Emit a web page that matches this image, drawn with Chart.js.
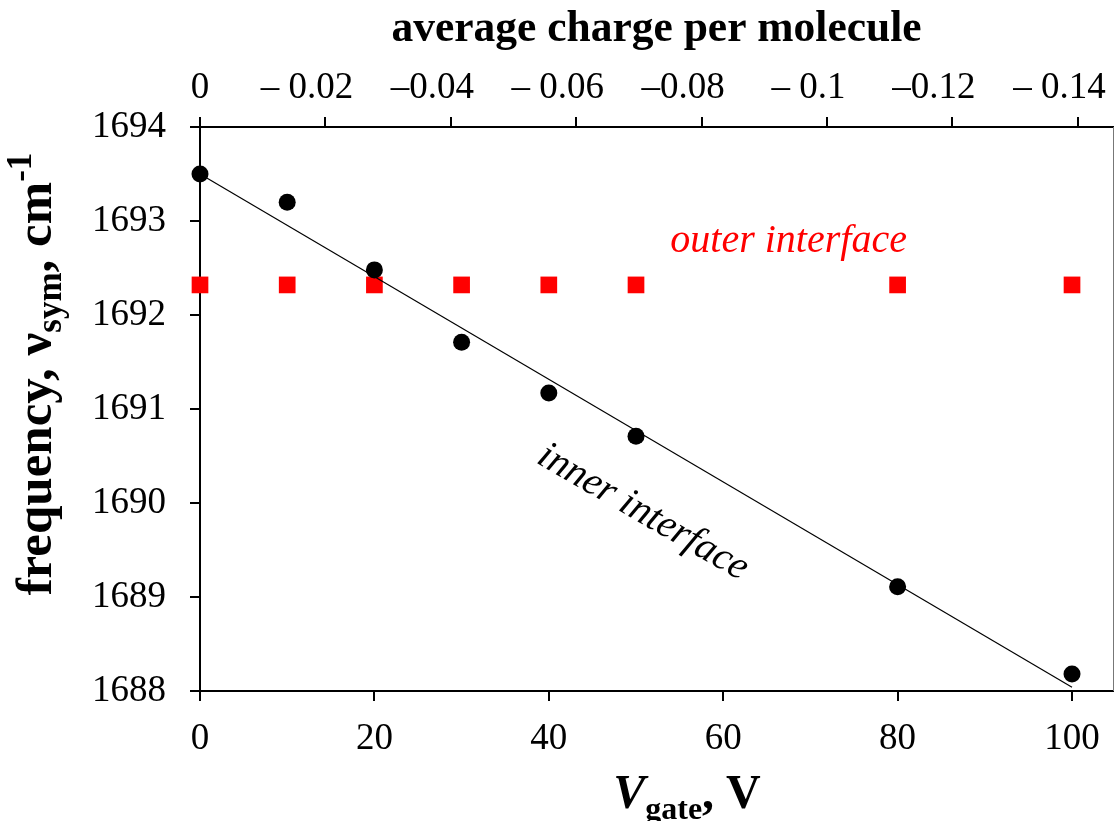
<!DOCTYPE html>
<html>
<head>
<meta charset="utf-8">
<script src="https://cdn.jsdelivr.net/npm/chart.js@4.4.1/dist/chart.umd.min.js"></script>
<style>
  html, body { margin: 0; padding: 0; background: #fff; overflow: hidden; }
</style>
</head>
<body>
<canvas id="canvas" width="1115" height="821"></canvas>
<script>
// gate voltage (V) for each measurement
let gateVoltage = [0, 10, 20, 30, 40, 50, 80, 100];
// inner interface, symmetric stretch frequency (cm-1)
let innerFreq = [1693.50, 1693.20, 1692.48, 1691.71, 1691.17, 1690.71, 1689.11, 1688.18];
// outer interface stays flat
let outerFreq = [1692.32, 1692.32, 1692.32, 1692.32, 1692.32, 1692.32, 1692.32, 1692.32];
// straight line fit through the inner points
let fitX = [0, 100];
let fitY = [1693.50, 1688.04];

// tick labels
let bottomTicks = [0, 20, 40, 60, 80, 100];
let leftTicks = [1688, 1689, 1690, 1691, 1692, 1693, 1694];
let topTicks = [0, -0.02, -0.04, -0.06, -0.08, -0.1, -0.12, -0.14];
let topLabels = ['0', '\u2013 0.02', '\u20130.04', '\u2013 0.06', '\u20130.08', '\u2013 0.1', '\u20130.12', '\u2013 0.14'];

const SERIF = "'Liberation Serif', 'Times New Roman', serif";

function toPoints(xs, ys) {
  let pts = [];
  for (let i = 0; i < xs.length; i++) {
    pts.push({x: xs[i], y: ys[i]});
  }
  return pts;
}

// draws a row of text pieces (for sub/superscripts)
function drawRich(ctx, parts, x, y, angle) {
  ctx.save();
  ctx.translate(x, y);
  ctx.rotate(angle);
  ctx.textBaseline = 'alphabetic';
  ctx.textAlign = 'left';
  let total = 0;
  for (let p of parts) {
    ctx.font = p.font;
    total += ctx.measureText(p.text).width;
  }
  let cx = -total / 2;
  for (let p of parts) {
    ctx.font = p.font;
    ctx.fillStyle = p.color || '#000';
    ctx.fillText(p.text, cx, p.dy || 0);
    cx += ctx.measureText(p.text).width;
  }
  ctx.restore();
}

// thin right frame line, axis titles with sub/superscripts, curve labels
const labelPlugin = {
  id: 'labels',
  beforeDatasetsDraw(chart) {
    let a = chart.chartArea;
    let ctx = chart.ctx;
    ctx.save();
    ctx.strokeStyle = '#777';
    ctx.lineWidth = 1;
    ctx.beginPath();
    ctx.moveTo(a.right + 0.5, a.top);
    ctx.lineTo(a.right + 0.5, a.bottom);
    ctx.stroke();
    ctx.restore();
  },
  afterDraw(chart) {
    let ctx = chart.ctx;
    let xs = chart.scales.x;
    let ys = chart.scales.y;

    drawRich(ctx, [
      {text: 'frequency, \u03bd', font: 'bold 51px ' + SERIF},
      {text: 'sym', font: 'bold 35px ' + SERIF, dy: 10},
      {text: ', cm', font: 'bold 51px ' + SERIF},
      {text: '-1', font: 'bold 35px ' + SERIF, dy: -20}
    ], 51, 374, -Math.PI / 2);

    drawRich(ctx, [
      {text: 'V', font: 'italic bold 48px ' + SERIF},
      {text: 'gate', font: 'bold 32px ' + SERIF, dy: 11},
      {text: ', V', font: 'bold 48px ' + SERIF}
    ], 687, 808, 0);

    ctx.save();
    ctx.font = 'italic 40px ' + SERIF;
    ctx.textAlign = 'center';
    ctx.textBaseline = 'alphabetic';
    ctx.fillStyle = '#ff0000';
    ctx.fillText('outer interface', xs.getPixelForValue(67.5), ys.getPixelForValue(1692.67));
    ctx.restore();

    ctx.save();
    ctx.font = 'italic 40px ' + SERIF;
    ctx.textAlign = 'center';
    ctx.textBaseline = 'middle';
    ctx.fillStyle = '#000';
    ctx.translate(xs.getPixelForValue(50.8), ys.getPixelForValue(1689.9));
    ctx.rotate(30 * Math.PI / 180);
    ctx.fillText('inner interface', 0, 0);
    ctx.restore();
  }
};

let tickFont = {family: SERIF, size: 37};

// keep the plot area where the reference has it
function noPad(s) {
  s.paddingLeft = 0;
  s.paddingRight = 0;
  s.paddingTop = 0;
  s.paddingBottom = 0;
}

let options = {
  type: 'scatter',
  data: {
    datasets: [
      {
        label: 'fit',
        type: 'line',
        data: toPoints(fitX, fitY),
        borderColor: '#000',
        borderWidth: 1.2,
        pointRadius: 0,
        fill: false,
        clip: false,
        order: 0
      },
      {
        label: 'inner interface',
        data: toPoints(gateVoltage, innerFreq),
        pointStyle: 'circle',
        pointRadius: 8.5,
        backgroundColor: '#000',
        borderColor: '#000',
        borderWidth: 0,
        clip: false,
        order: 1
      },
      {
        label: 'outer interface',
        data: toPoints(gateVoltage, outerFreq),
        pointStyle: 'rect',
        pointRadius: 11.8,
        backgroundColor: '#ff0000',
        borderColor: '#ff0000',
        borderWidth: 0,
        clip: false,
        order: 2
      }
    ]
  },
  options: {
    responsive: false,
    animation: false,
    layout: {autoPadding: false, padding: {left: 0, top: 0, bottom: 0, right: 2}},
    plugins: {
      legend: {display: false},
      tooltip: {enabled: false}
    },
    scales: {
      x: {
        type: 'linear',
        position: 'bottom',
        min: 0,
        max: 104.7,
        afterBuildTicks: (s) => { s.ticks = bottomTicks.map(v => ({value: v})); },
        afterFit: (s) => { s.height = 130; noPad(s); },
        ticks: {font: tickFont, color: '#000', padding: 16, maxRotation: 0},
        grid: {drawOnChartArea: false, tickLength: 10, color: '#000', lineWidth: 2},
        border: {display: true, color: '#000', width: 2}
      },
      xTop: {
        type: 'linear',
        position: 'top',
        min: -0.1456,
        max: 0,
        reverse: true,
        afterBuildTicks: (s) => { s.ticks = topTicks.map(v => ({value: v})); },
        afterFit: (s) => { s.height = 127; noPad(s); },
        ticks: {
          font: tickFont,
          color: '#000',
          padding: 7,
          maxRotation: 0,
          autoSkip: false,
          callback: (v, i) => i === 0 ? topLabels[i] : topLabels[i] + '\u2002\u2002'
        },
        grid: {drawOnChartArea: false, tickLength: 10, color: '#000', lineWidth: 2},
        border: {display: true, color: '#000', width: 2},
        title: {
          display: true,
          text: 'average charge per molecule',
          color: '#000',
          font: {family: SERIF, size: 43.5, weight: 'bold'},
          padding: {top: 4, bottom: 0}
        }
      },
      y: {
        type: 'linear',
        position: 'left',
        min: 1688,
        max: 1694,
        afterBuildTicks: (s) => { s.ticks = leftTicks.map(v => ({value: v})); },
        afterFit: (s) => { s.width = 200; noPad(s); },
        ticks: {font: tickFont, color: '#000', padding: 24, callback: (v) => String(v)},
        grid: {drawOnChartArea: false, tickLength: 10, color: '#000', lineWidth: 2},
        border: {display: true, color: '#000', width: 2}
      }
    }
  },
  plugins: [labelPlugin]
};

let chart = new Chart(document.getElementById('canvas'), options);
</script>
</body>
</html>
